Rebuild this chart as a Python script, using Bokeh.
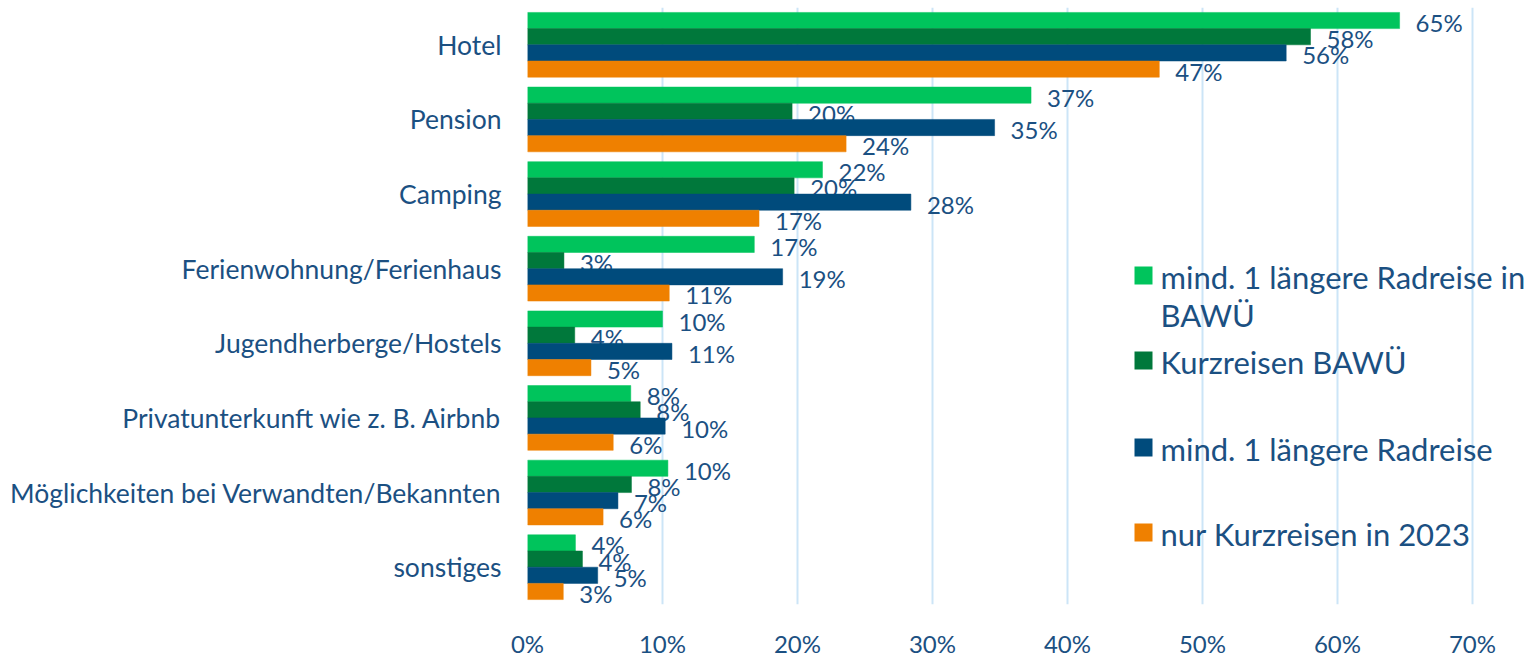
from bokeh.plotting import figure
from bokeh.models import (ColumnDataSource, FactorRange, Range1d, FixedTicker,
                          Label, BoxAnnotation)
from bokeh.transform import dodge
from bokeh.core.properties import value
from bokeh.embed import file_html
from bokeh.resources import INLINE

categories = ["Hotel", "Pension", "Camping", "Ferienwohnung/Ferienhaus",
              "Jugendherberge/Hostels", "Privatunterkunft wie z. B. Airbnb",
              "Möglichkeiten bei Verwandten/Bekannten", "sonstiges"]
series_names = ["mind. 1 längere Radreise in BAWÜ", "Kurzreisen BAWÜ",
                "mind. 1 längere Radreise", "nur Kurzreisen in 2023"]
colors = ["#00C45C", "#00783B", "#004B7C", "#EF8000"]

laengere_bawue = [64.6, 37.3, 21.85, 16.8, 10.0, 7.65, 10.4, 3.55]
kurz_bawue = [58.0, 19.6, 19.75, 2.7, 3.5, 8.35, 7.7, 4.07]
laengere = [56.2, 34.6, 28.4, 18.9, 10.7, 10.2, 6.7, 5.2]
nur_kurz = [46.8, 23.6, 17.15, 10.5, 4.7, 6.35, 5.6, 2.65]
series_values = [laengere_bawue, kurz_bawue, laengere, nur_kurz]

x_ticks = [0, 10, 20, 30, 40, 50, 60, 70]
x_tick_labels = [f"{t}%" for t in x_ticks]

TEXT = "#1B5082"
FONT = "Lato"

W, H = 1530, 660
LEFT, TOP, BOTTOM = 527, 7, 47
frame_w = W - LEFT
frame_h = H - TOP - BOTTOM
px_per_pct = 13.5

p = figure(width=W, height=H, output_backend="svg", toolbar_location=None,
           y_range=FactorRange(factors=categories[::-1]),
           x_range=Range1d(0, frame_w / px_per_pct),
           min_border_left=LEFT, min_border_right=0, min_border_top=TOP,
           min_border_bottom=BOTTOM)
p.outline_line_color = None
p.background_fill_color = "white"
p.border_fill_color = "white"

bar_h = 0.217
offsets = [1.5 * bar_h, 0.5 * bar_h, -0.5 * bar_h, -1.5 * bar_h]

for vals, col, off in zip(series_values, colors, offsets):
    src = ColumnDataSource(dict(cat=categories, v=vals,
                                lab=[f"{int(v + 0.5)}%" for v in vals]))
    p.hbar(y=dodge("cat", off, range=p.y_range), left=0, right="v", height=bar_h,
           source=src, fill_color=col, line_color=col, line_width=0.5)
    p.text(x="v", y=dodge("cat", off, range=p.y_range), text="lab", source=src,
           x_offset=16, y_offset=2, text_align="left", text_baseline="middle",
           text_font=value(FONT), text_font_size="24px", text_color=TEXT)

# x axis
p.xaxis.ticker = FixedTicker(ticks=x_ticks)
p.xaxis.major_label_overrides = {t: l for t, l in zip(x_ticks, x_tick_labels)}
p.xaxis.axis_line_color = None
p.xaxis.major_tick_line_color = None
p.xaxis.minor_tick_line_color = None
p.xaxis.major_label_standoff = 18
p.xaxis.major_label_text_font = FONT
p.xaxis.major_label_text_font_size = "24px"
p.xaxis.major_label_text_color = TEXT
p.xgrid.ticker = FixedTicker(ticks=x_ticks)
p.xgrid.grid_line_color = "#CCE5F7"
p.xgrid.grid_line_width = 2
p.ygrid.grid_line_color = None

# y axis
p.yaxis.axis_line_color = None
p.yaxis.major_tick_line_color = None
p.yaxis.minor_tick_line_color = None
p.yaxis.major_label_standoff = 20
p.yaxis.major_label_text_font = FONT
p.yaxis.major_label_text_font_size = "26.5px"
p.yaxis.major_label_text_color = TEXT

# legend (frame-relative screen units)
leg_x = 607
sq = 18
row_centers = [284, 369, 456, 541]  # picture y of each legend row
for i, (name, col) in enumerate(zip(series_names, colors)):
    cy = (H - BOTTOM) - row_centers[i]
    p.add_layout(BoxAnnotation(left=leg_x, right=leg_x + sq, bottom=cy - sq / 2, top=cy + sq / 2,
                               left_units="screen", right_units="screen",
                               bottom_units="screen", top_units="screen",
                               fill_color=col, fill_alpha=1, line_color=None))
    words = name.split(" ")
    lines = [name] if i != 0 else [" ".join(words[:-1]), words[-1]]
    for j, ln in enumerate(lines):
        p.add_layout(Label(x=leg_x + 26, y=cy - 1 - j * 38, x_units="screen", y_units="screen",
                           text=ln, text_align="left", text_baseline="middle",
                           text_font=FONT, text_font_size="31px", text_color=TEXT))

open("out.html", "w").write(file_html(p, INLINE))
